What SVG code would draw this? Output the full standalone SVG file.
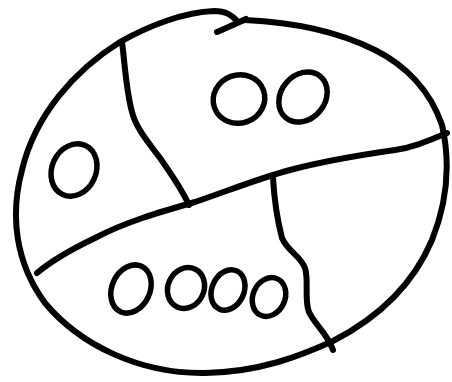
<svg xmlns="http://www.w3.org/2000/svg" width="452" height="382" viewBox="0 0 452 382">
<style>
.s{fill:none;stroke:#000;stroke-width:6;stroke-linecap:round;stroke-linejoin:round}
.o{fill:none;stroke:#000;stroke-width:5.5}
</style>
<rect width="452" height="382" fill="#fff"/>
<g id="outline">
<path class="s" d="M 238,22 C 232,15 226,11 214,11 C 185,12 150,25 120,42 C 75,70 35,115 22,170 C 10,215 15,262 45,303 C 80,345 140,374 205,373 C 260,372 300,356 333,341 C 370,322 410,292 432,240 C 448,200 450,160 442,125 C 430,90 405,65 375,50 C 335,30 290,22 245,20"/>
<path class="s" d="M 217,32 C 228,27 238,23 246,19"/>
</g>
<g id="dividers">
<path class="s" d="M 122,42 C 125,65 126,90 132,112 C 136,128 148,142 160,158 C 172,175 182,190 189,205"/>
<path class="s" d="M 447,133 C 430,140 415,147 395,150 C 360,155 320,162 290,170 C 260,178 230,190 195,202 C 160,212 125,222 95,238 C 70,250 50,262 37,273"/>
<path class="s" d="M 273,178 C 274,195 276,215 282,238 C 288,252 300,255 305,268 C 309,280 304,300 309,312 C 315,325 327,333 333,350"/>
</g>
<g id="items">
<ellipse class="o" cx="239" cy="99" rx="26" ry="24" transform="rotate(-20 239 99)"/>
<ellipse class="o" cx="303" cy="97" rx="27" ry="22" transform="rotate(-50 303 97)"/>
<ellipse class="o" cx="74" cy="170" rx="22" ry="27" transform="rotate(25 74 170)"/>
<ellipse class="o" cx="131" cy="289" rx="19" ry="25" transform="rotate(25 131 289)"/>
<ellipse class="o" cx="186" cy="288" rx="18" ry="21" transform="rotate(25 186 288)"/>
<ellipse class="o" cx="228" cy="290" rx="16" ry="21" transform="rotate(25 228 290)"/>
<ellipse class="o" cx="269" cy="297" rx="16" ry="20" transform="rotate(25 269 297)"/>
</g>
</svg>
